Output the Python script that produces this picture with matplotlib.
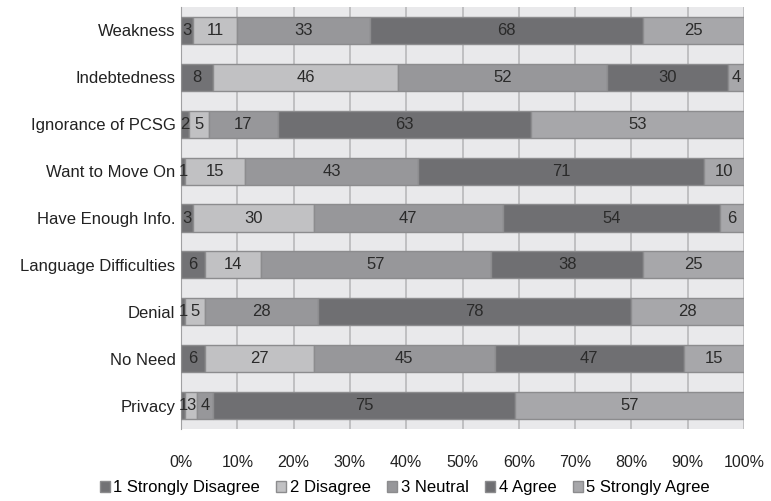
import matplotlib
matplotlib.use("Agg")
import matplotlib.pyplot as plt
import numpy as np

categories = ["Weakness", "Indebtedness", "Ignorance of PCSG", "Want to Move On",
              "Have Enough Info.", "Language Difficulties", "Denial", "No Need", "Privacy"]
series_names = ["1 Strongly Disagree", "2 Disagree", "3 Neutral", "4 Agree", "5 Strongly Agree"]
strongly_disagree = [3, 8, 2, 1, 3, 6, 1, 6, 1]
disagree = [11, 46, 5, 15, 30, 14, 5, 27, 3]
neutral = [33, 52, 17, 43, 47, 57, 28, 45, 4]
agree = [68, 30, 63, 71, 54, 38, 78, 47, 75]
strongly_agree = [25, 4, 53, 10, 6, 25, 28, 15, 57]
xtick_labels = ["0%", "10%", "20%", "30%", "40%", "50%", "60%", "70%", "80%", "90%", "100%"]

colors = ["#727275", "#c1c1c3", "#97979a", "#6f6f72", "#a7a7aa"]

plt.rcParams['font.family'] = ['Liberation Sans', 'DejaVu Sans']
fig = plt.figure(figsize=(7.71, 5.01), dpi=100)
ax = fig.add_axes([0.2348, 0.1437, 0.965 - 0.2348, 0.986 - 0.1437])
ax.set_facecolor("#e9e9eb")

data = np.array([strongly_disagree, disagree, neutral, agree, strongly_agree], dtype=float)
totals = data.sum(axis=0)
pct = data / totals * 100
y = np.arange(len(categories))
left = np.zeros(len(categories))
handles = []
for i in range(5):
    bars = ax.barh(y, pct[i], left=left, height=0.58, color=colors[i],
                   edgecolor="#8c8c8e", linewidth=1.0, label=series_names[i], zorder=3)
    handles.append(bars)
    for j in range(len(categories)):
        ax.text(left[j] + pct[i][j] / 2, y[j], str(int(data[i][j])), ha="center", va="center",
                fontsize=12, color="#2a2a2a", zorder=4)
    left += pct[i]

ax.set_ylim(len(categories) - 0.5, -0.5)
ax.set_xlim(0, 100)
ax.set_yticks(y)
ax.set_yticklabels(categories, fontsize=12, color="#222222")
ax.set_xticks(np.arange(0, 101, 10))
ax.set_xticklabels(xtick_labels, fontsize=11.5, color="#222222")
ax.tick_params(axis="both", length=0, pad=4)
ax.tick_params(axis="x", pad=19)
ax.grid(axis="x", color="#b8b8ba", linewidth=1.2, zorder=0)
for s in ["top", "right", "bottom"]:
    ax.spines[s].set_visible(False)
ax.spines["left"].set_color("#a0a0a2")

fig.legend(handles=handles, labels=series_names, loc="center", bbox_to_anchor=(0.525, 0.026),
           ncol=5, frameon=False, fontsize=12, handlelength=0.6, handleheight=0.6,
           handletextpad=0.2, columnspacing=1.0)

fig.savefig("out.png", dpi=100)
